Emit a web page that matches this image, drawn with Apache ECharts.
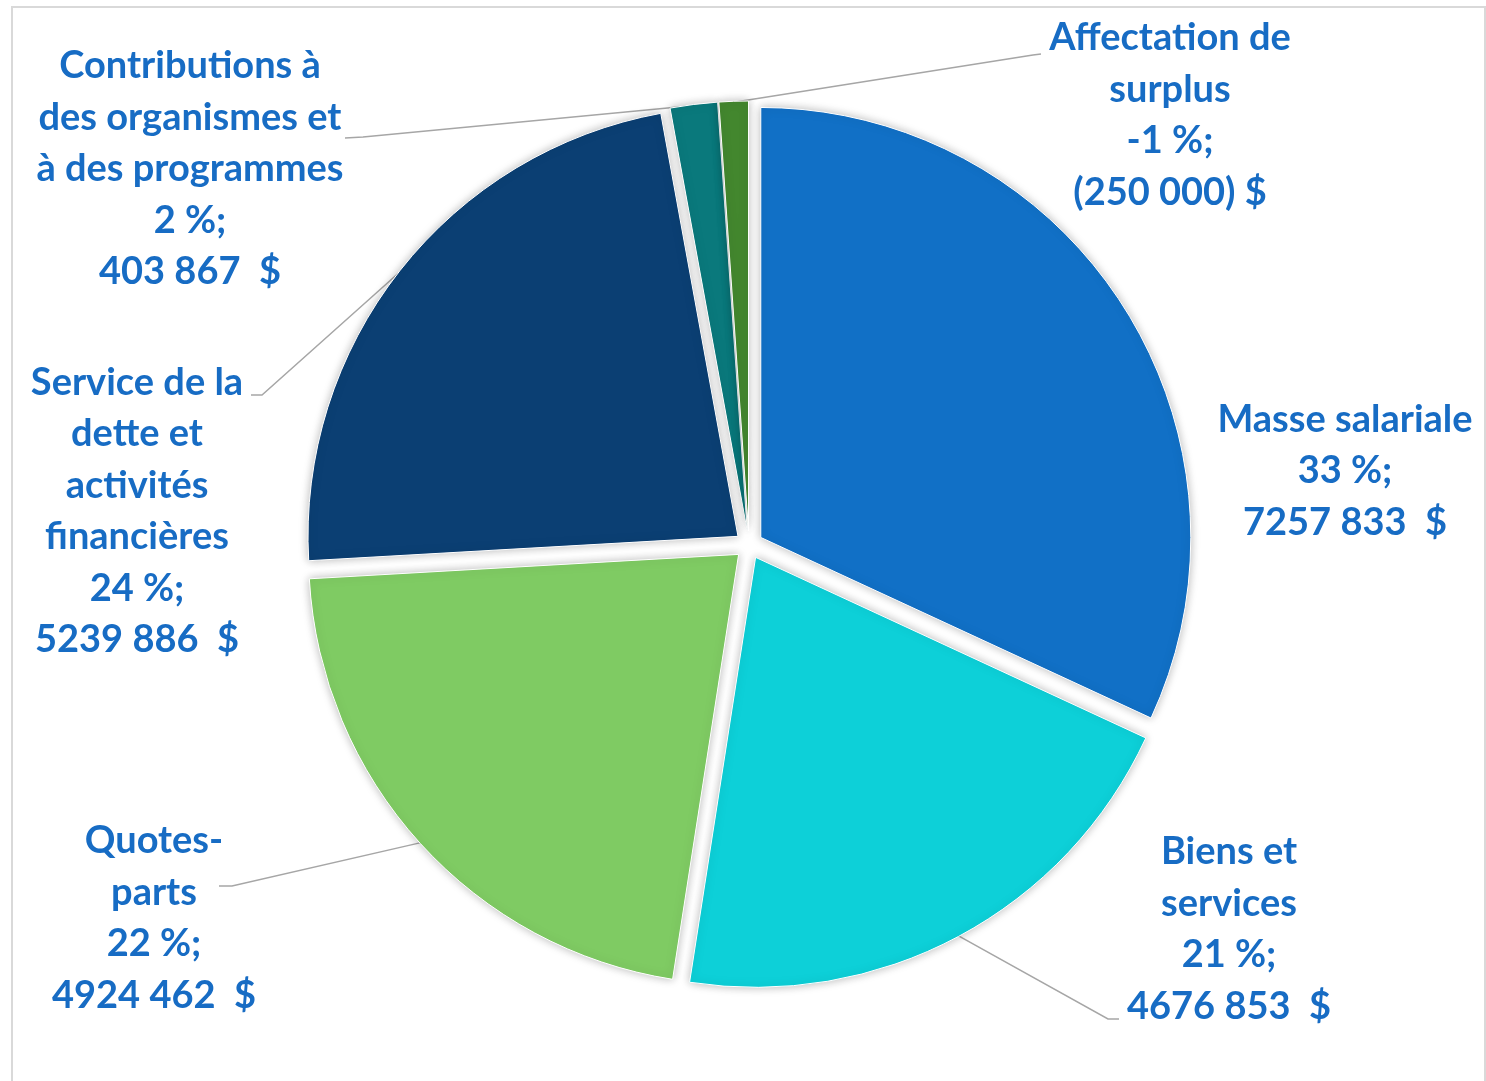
<!DOCTYPE html>
<html>
<head>
<meta charset="utf-8">
<script src="https://cdn.jsdelivr.net/npm/echarts@6/dist/echarts.min.js"></script>
<style>
    html, body { margin: 0; padding: 0; background: #fff; }
    #chart { width: 1486px; height: 1081px; }
</style>
</head>
<body>
<div id="chart"></div>
<script>
// catégories (dans l'ordre horaire à partir de midi)
const names = [
    'Masse salariale',
    'Biens et\nservices',
    'Quotes-\nparts',
    'Service de la\ndette et\nactivités\nfinancières',
    'Contributions à\ndes organismes et\nà des programmes',
    'Affectation de\nsurplus'
]
// montants en $
const amounts = [7257833, 4676853, 4924462, 5239886, 403867, -250000]
const amountLabels = ['7257 833  $', '4676 853  $', '4924 462  $', '5239 886  $', '403 867  $', '(250 000) $']
const colors = ['#1170c6', '#0dd0d8', '#7fcb63', '#0b3f73', '#0a797c', '#43872e']

// position des étiquettes (centre du bloc de texte)
const labelPos = [[1345, 471], [1229, 929], [154, 918], [137, 511], [190, 169], [1170, 115]]
// coude et bout des traits de rappel
const lineEnds = [
    null,
    [[1108, 1019], [1119, 1019]],
    [[232, 886], [219, 886]],
    [[262, 395], [251, 395]],
    [[363, 137], [345, 138]],
    [[1033, 55], [1041, 54]]
]

const total = amounts.reduce((a, b) => a + b, 0)

const chart = echarts.init(document.getElementById('chart'))

const sliceStyle = {
    borderColor: '#fff',
    borderWidth: 1,
    shadowBlur: 10,
    shadowColor: 'rgba(0,0,0,0.28)'
}

// secteurs éclatés
let slices = names.map((name, i) => {
    return {
        name: name,
        value: Math.abs(amounts[i]),
        selected: true,
        itemStyle: { color: colors[i] },
        select: { itemStyle: { color: colors[i] } }
    }
})

// étiquettes (série invisible, même géométrie)
let labels = names.map((name, i) => {
    let pct = Math.round(amounts[i] / total * 100)
    return {
        name: name,
        value: Math.abs(amounts[i]),
        labelLine: { show: i !== 0 },
        label: {
            formatter: name + '\n' + pct + ' %;\n' + amountLabels[i]
        }
    }
})

let options = {
    animation: false,
    graphic: [{
        type: 'rect',
        shape: { x: 12, y: 7, width: 1473, height: 1100 },
        style: { fill: 'none', stroke: '#d9d9d9', lineWidth: 2 },
        silent: true
    }],
    series: [{
        type: 'pie',
        center: [749, 545],
        radius: 430,
        startAngle: 90,
        selectedMode: 'multiple',
        selectedOffset: 14,
        itemStyle: sliceStyle,
        select: { itemStyle: sliceStyle },
        emphasis: { disabled: true },
        label: { show: false },
        labelLine: { show: false },
        data: slices
    }, {
        type: 'pie',
        center: [749, 545],
        radius: 443,
        startAngle: 90,
        silent: true,
        avoidLabelOverlap: false,
        itemStyle: { color: 'rgba(0,0,0,0)' },
        emphasis: { disabled: true },
        label: {
            show: true,
            position: 'outside',
            color: '#176cc4',
            fontFamily: 'Lato',
            fontWeight: 'bold',
            fontSize: 38,
            lineHeight: 51.5,
            align: 'center'
        },
        labelLine: {
            show: true,
            length: 20,
            length2: 20,
            lineStyle: { color: '#a6a6a6', width: 1.5 }
        },
        labelLayout: (params) => {
            let i = params.dataIndex
            let p = labelPos[i]
            let res = { x: p[0], y: p[1], align: 'center', verticalAlign: 'middle' }
            if (lineEnds[i] && params.labelLinePoints) {
                res.labelLinePoints = [params.labelLinePoints[0], lineEnds[i][0], lineEnds[i][1]]
            }
            return res
        },
        data: labels
    }]
}

chart.setOption(options)
</script>
</body>
</html>
